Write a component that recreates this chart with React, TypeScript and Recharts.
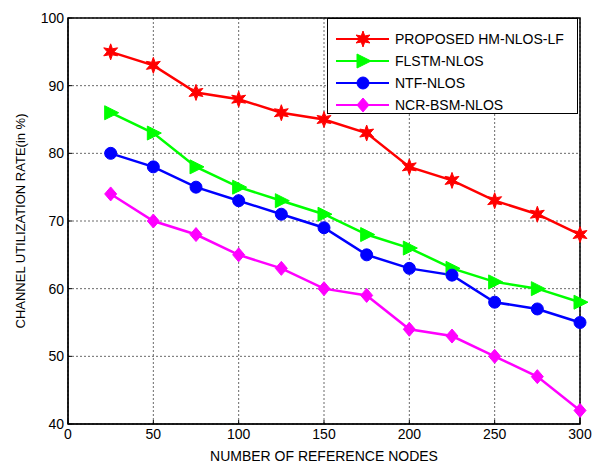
import {
  CartesianGrid,
  Line,
  LineChart,
  ReferenceArea,
  XAxis,
  YAxis,
} from "recharts";

const nodes = [25, 50, 75, 100, 125, 150, 175, 200, 225, 250, 275, 300];
const proposed = [95, 93, 89, 88, 86, 85, 83, 78, 76, 73, 71, 68];
const flstm = [86, 83, 78, 75, 73, 71, 68, 66, 63, 61, 60, 58];
const ntf = [80, 78, 75, 73, 71, 69, 65, 63, 62, 58, 57, 55];
const ncr = [74, 70, 68, 65, 63, 60, 59, 54, 53, 50, 47, 42];
const xTicks = [0, 50, 100, 150, 200, 250, 300];
const yTicks = [40, 50, 60, 70, 80, 90, 100];

const data = nodes.map((n, i) => ({
  n,
  proposed: proposed[i],
  flstm: flstm[i],
  ntf: ntf[i],
  ncr: ncr[i],
}));

const font = "'Liberation Sans', Arial, sans-serif";

const Star = ({ cx, cy, color }: any) => {
  if (cx == null || cy == null) return null;
  const pts: string[] = [];
  for (let i = 0; i < 12; i++) {
    const r = i % 2 === 0 ? 8 : 3.5;
    const a = (Math.PI / 6) * i - Math.PI / 2;
    pts.push(`${cx + r * Math.cos(a)},${cy + r * Math.sin(a)}`);
  }
  return <polygon points={pts.join(" ")} fill={color} stroke={color} />;
};

const Tri = ({ cx, cy, color }: any) => {
  if (cx == null || cy == null) return null;
  return (
    <polygon
      points={`${cx - 6},${cy - 7} ${cx + 8},${cy} ${cx - 6},${cy + 7}`}
      fill={color}
      stroke={color}
    />
  );
};

const Circ = ({ cx, cy, color }: any) => {
  if (cx == null || cy == null) return null;
  return <circle cx={cx} cy={cy} r={6} fill={color} stroke={color} />;
};

const Diam = ({ cx, cy, color }: any) => {
  if (cx == null || cy == null) return null;
  return (
    <polygon
      points={`${cx},${cy - 7} ${cx + 6},${cy} ${cx},${cy + 7} ${cx - 6},${cy}`}
      fill={color}
      stroke={color}
    />
  );
};

const series = [
  { key: "proposed", name: "PROPOSED HM-NLOS-LF", color: "#ff0000", Marker: Star },
  { key: "flstm", name: "FLSTM-NLOS", color: "#00ff00", Marker: Tri },
  { key: "ntf", name: "NTF-NLOS", color: "#0000ff", Marker: Circ },
  { key: "ncr", name: "NCR-BSM-NLOS", color: "#ff00ff", Marker: Diam },
];

const LegendBox = () => (
  <svg width={251} height={96} style={{ display: "block" }}>
    <rect x={0.5} y={0.5} width={250} height={95} fill="#fff" stroke="#000" />
    {series.map((s, i) => {
      const y = 21 + i * 22;
      const M = s.Marker;
      return (
        <g key={s.key}>
          <line x1={9} y1={y} x2={62} y2={y} stroke={s.color} strokeWidth={2} />
          <M cx={36} cy={y} color={s.color} />
          <text x={68} y={y + 5} fontSize={14} fontFamily={font} fill="#000">
            {s.name}
          </text>
        </g>
      );
    })}
  </svg>
);

export default function App() {
  return (
    <div style={{ position: "absolute", left: 0, top: 0, background: "#fff" }}>
      <LineChart
        width={597}
        height={466}
        data={data}
        margin={{ top: 18, right: 17, bottom: 22, left: 28 }}
      >
        <CartesianGrid stroke="#444" strokeDasharray="2 2" strokeWidth={0.8} />
        <XAxis
          dataKey="n"
          type="number"
          domain={[0, 300]}
          ticks={xTicks}
          height={20}
          tickSize={-4}
          tickMargin={9}
          stroke="#000"
          tick={{ fill: "#000", fontSize: 14, fontFamily: font }}
          label={{
            value: "NUMBER OF REFERENCE NODES",
            position: "insideBottom",
            offset: -17,
            fill: "#000",
            fontSize: 14,
            fontFamily: font,
          }}
        />
        <YAxis
          type="number"
          domain={[40, 100]}
          ticks={yTicks}
          width={40}
          tickSize={-4}
          tickMargin={8}
          stroke="#000"
          tick={{ fill: "#000", fontSize: 14, fontFamily: font }}
          label={{
            value: "CHANNEL UTILIZATION RATE(in %)",
            angle: -90,
            position: "insideLeft",
            offset: -8,
            style: { textAnchor: "middle" },
            fill: "#000",
            fontSize: 13,
            fontFamily: font,
          }}
        />
        <ReferenceArea
          x1={0}
          x2={300}
          y1={40}
          y2={100}
          fill="none"
          stroke="#000"
          strokeWidth={1.5}
          ifOverflow="visible"
        />
        {series.map((s) => {
          const M = s.Marker;
          return (
            <Line
              key={s.key}
              dataKey={s.key}
              name={s.name}
              stroke={s.color}
              strokeWidth={2.5}
              isAnimationActive={false}
              dot={(p: any) => <M key={`${s.key}-${p.index}`} cx={p.cx} cy={p.cy} color={s.color} />}
              activeDot={false}
            />
          );
        })}
      </LineChart>
      <div style={{ position: "absolute", left: 327, top: 18 }}>
        <LegendBox />
      </div>
    </div>
  );
}
